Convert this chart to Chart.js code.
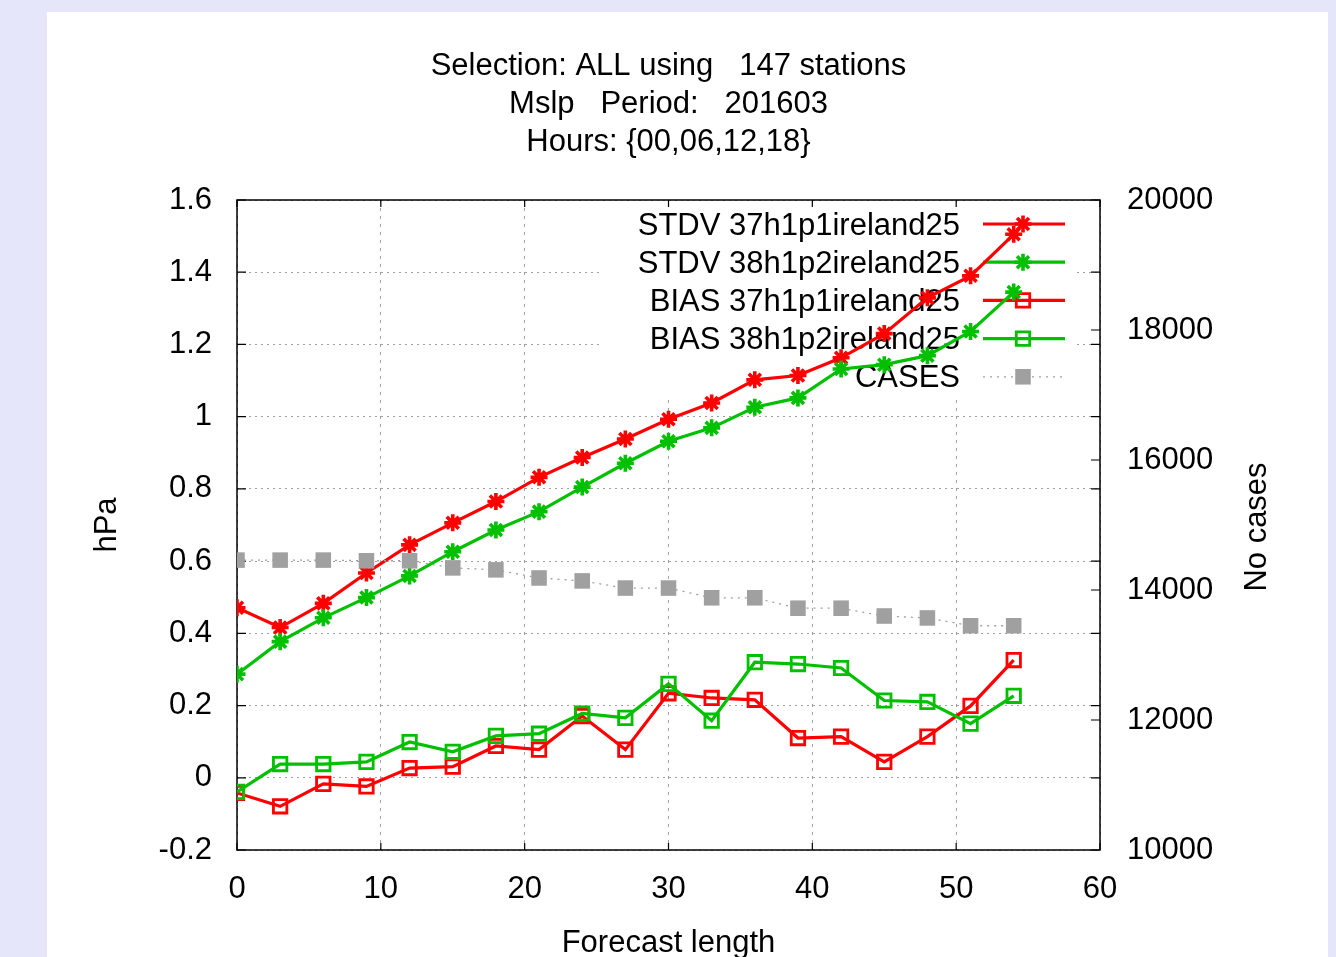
<!DOCTYPE html>
<html><head><meta charset="utf-8">
<script src="https://cdn.jsdelivr.net/npm/chart.js@4/dist/chart.umd.min.js"></script>
<style>
html,body{margin:0;padding:0;background:#e6e6fa;width:1336px;height:957px;overflow:hidden;}
#wrap{position:absolute;left:47px;top:12px;width:1281px;height:945px;background:#fff;}
canvas{display:block;}
</style></head><body>
<div id="wrap"><canvas id="c" width="1281" height="945"></canvas></div>
<script>
// ---- data ----
const forecastHours = [0,3,6,9,12,15,18,21,24,27,30,33,36,39,42,45,48,51,54];
const stdv37 = [0.471,0.416,0.483,0.567,0.645,0.706,0.765,0.832,0.887,0.938,0.993,1.038,1.102,1.114,1.163,1.230,1.329,1.390,1.505];
const stdv38 = [0.287,0.377,0.443,0.499,0.559,0.626,0.686,0.737,0.805,0.871,0.932,0.969,1.026,1.052,1.132,1.144,1.169,1.236,1.345];
const bias37 = [-0.042,-0.079,-0.017,-0.024,0.027,0.031,0.088,0.078,0.171,0.078,0.234,0.221,0.216,0.110,0.114,0.044,0.114,0.199,0.326];
const bias38 = [-0.039,0.038,0.038,0.044,0.099,0.072,0.116,0.122,0.178,0.166,0.260,0.158,0.320,0.315,0.304,0.214,0.210,0.150,0.227];
const cases  = [14460,14460,14460,14450,14450,14340,14310,14185,14140,14030,14030,13880,13880,13720,13720,13600,13570,13450,13450];
const seriesNames = ['STDV 37h1p1ireland25','STDV 38h1p2ireland25','BIAS 37h1p1ireland25','BIAS 38h1p2ireland25','CASES'];
const titleLines = ['Selection: ALL using   147 stations','Mslp   Period:   201603','Hours: {00,06,12,18}'];
const xAxisTitle = 'Forecast length';
const yAxisTitle = 'hPa';
const y2AxisTitle = 'No cases';
const xRange = [0, 60, 10];
const yRange = [-0.2, 1.6, 0.2];
const y2Range = [10000, 20000, 2000];

// ---- styles ----
const FONT = "'Liberation Sans', Arial, sans-serif";
const RED = '#ff0000', GREEN = '#00c000', GRAY = '#a0a0a0';
const pts = arr => forecastHours.map((h, i) => ({x: h, y: arr[i]}));

const seriesStyles = [
  {color: RED,   width: 3.2, dash: [], point: 'star', r: 8.5, pw: 3.6, fill: RED},
  {color: GREEN, width: 3.2, dash: [], point: 'star', r: 8.5, pw: 3.6, fill: GREEN},
  {color: RED,   width: 3.2, dash: [], point: 'rect', r: 9.5, pw: 2.8, fill: 'rgba(0,0,0,0)'},
  {color: GREEN, width: 3.2, dash: [], point: 'rect', r: 9.5, pw: 2.8, fill: 'rgba(0,0,0,0)'},
  {color: GRAY,  width: 1.3, dash: [2,5], point: 'rect', r: 11, pw: 0, fill: GRAY}
];
const seriesData = [stdv37, stdv38, bias37, bias38, cases];

const datasets = seriesData.map((arr, i) => {
  const s = seriesStyles[i];
  return {
    label: seriesNames[i],
    data: pts(arr),
    yAxisID: i === 4 ? 'y2' : 'y',
    borderColor: s.color,
    borderWidth: s.width,
    borderDash: s.dash,
    pointStyle: s.point,
    pointRadius: s.r,
    pointHoverRadius: s.r,
    pointBorderWidth: s.pw,
    pointBorderColor: s.color,
    pointBackgroundColor: s.fill,
    tension: 0,
    fill: false,
    order: 5 - i
  };
});

function drawMarker(ctx, s, x, y) {
  ctx.save();
  ctx.setLineDash([]);
  ctx.strokeStyle = s.color; ctx.fillStyle = s.fill;
  ctx.lineWidth = s.pw;
  if (s.point === 'star') {
    const r = s.r, d = r * Math.SQRT1_2;
    ctx.beginPath();
    ctx.moveTo(x - r, y); ctx.lineTo(x + r, y);
    ctx.moveTo(x, y - r); ctx.lineTo(x, y + r);
    ctx.moveTo(x - d, y - d); ctx.lineTo(x + d, y + d);
    ctx.moveTo(x - d, y + d); ctx.lineTo(x + d, y - d);
    ctx.stroke();
  } else {
    const h = s.r * Math.SQRT1_2;
    ctx.beginPath(); ctx.rect(x - h, y - h, 2 * h, 2 * h);
    ctx.fill();
    if (s.pw > 0) ctx.stroke();
  }
  ctx.restore();
}

const framePlugin = {
  id: 'gnuFrame',
  beforeDatasetsDraw(chart) {
    const {ctx, chartArea: a, scales} = chart;
    ctx.save();
    // opaque key box
    ctx.fillStyle = '#fff';
    ctx.fillRect(a.left + 365, a.top + 5, 473, 191);
    // border
    ctx.strokeStyle = '#000'; ctx.lineWidth = 1.5; ctx.setLineDash([]);
    ctx.strokeRect(a.left, a.top, a.right - a.left, a.bottom - a.top);
    ctx.lineWidth = 1.2;
    ctx.beginPath();
    scales.y.ticks.forEach(t => {
      const p = scales.y.getPixelForValue(t.value);
      ctx.moveTo(a.left, p); ctx.lineTo(a.left + 9, p);
      ctx.moveTo(a.right, p); ctx.lineTo(a.right - 9, p);
    });
    scales.y2.ticks.forEach(t => {
      const p = scales.y2.getPixelForValue(t.value);
      ctx.moveTo(a.right, p); ctx.lineTo(a.right - 9, p);
    });
    scales.x.ticks.forEach(t => {
      const p = scales.x.getPixelForValue(t.value);
      ctx.moveTo(p, a.bottom); ctx.lineTo(p, a.bottom - 7);
      ctx.moveTo(p, a.top); ctx.lineTo(p, a.top + 7);
    });
    ctx.stroke();
    // key
    ctx.font = '31px ' + FONT;
    ctx.fillStyle = '#000';
    ctx.textAlign = 'right'; ctx.textBaseline = 'middle';
    const rowY0 = a.top + 24, rowH = 38.2;
    const textX = a.right - 140, s0 = a.right - 117, s1 = a.right - 35, mx = a.right - 77;
    seriesNames.forEach((name, i) => {
      const y = rowY0 + i * rowH;
      const s = seriesStyles[i];
      ctx.fillStyle = '#000';
      ctx.fillText(name, textX, y + 2);
      ctx.strokeStyle = s.color; ctx.lineWidth = s.width; ctx.setLineDash(s.dash);
      ctx.beginPath(); ctx.moveTo(s0, y); ctx.lineTo(s1, y); ctx.stroke();
      drawMarker(ctx, s, mx, y);
    });
    // right axis title (reads bottom-to-top)
    ctx.setLineDash([]);
    ctx.save();
    ctx.translate(a.right + 157, (a.top + a.bottom) / 2 + 2);
    ctx.rotate(-Math.PI / 2);
    ctx.textAlign = 'center'; ctx.textBaseline = 'middle';
    ctx.fillStyle = '#000';
    ctx.fillText(y2AxisTitle, 0, 0);
    ctx.restore();
    ctx.restore();
  }
};

const tickFont = {family: FONT, size: 31};
new Chart(document.getElementById('c'), {
  type: 'line',
  data: {datasets},
  options: {
    responsive: false,
    animation: false,
    events: [],
    layout: {padding: 0},
    plugins: {
      legend: {display: false},
      tooltip: {enabled: false},
      title: {
        display: true, text: titleLines, fullSize: false, color: '#000',
        font: {family: FONT, size: 31, weight: 'normal', lineHeight: 38 / 31},
        padding: {top: 35, bottom: 39}
      }
    },
    scales: {
      x: {
        type: 'linear', position: 'bottom', min: xRange[0], max: xRange[1],
        ticks: {stepSize: xRange[2], padding: 21, color: '#000', font: tickFont, maxRotation: 0, autoSkip: false},
        grid: {color: GRAY, lineWidth: 1, drawTicks: false},
        border: {display: false, dash: [3, 5]},
        title: {display: true, text: xAxisTitle, color: '#000', font: {family: FONT, size: 31, lineHeight: 0.9}, padding: {top: 0, bottom: 0}},
        afterFit(s) { s.height = 107; }
      },
      y: {
        type: 'linear', position: 'left', min: yRange[0], max: yRange[1],
        ticks: {stepSize: yRange[2], padding: 25, color: '#000', font: tickFont,
                callback: v => String(parseFloat(Number(v).toFixed(1)))},
        grid: {color: GRAY, lineWidth: 1, drawTicks: false},
        border: {display: false, dash: [2, 4]},
        title: {display: true, text: yAxisTitle, color: '#000', font: {family: FONT, size: 31, lineHeight: 1}, padding: {top: 45, bottom: 0}},
        afterFit(s) { s.width = 190; }
      },
      y2: {
        type: 'linear', position: 'right', min: y2Range[0], max: y2Range[1],
        ticks: {stepSize: y2Range[2], padding: 27, color: '#000', font: tickFont, callback: v => String(v)},
        grid: {drawOnChartArea: false, drawTicks: false},
        border: {display: false},
        afterFit(s) { s.width = 228; }
      }
    }
  },
  plugins: [framePlugin]
});
</script>
</body></html>
